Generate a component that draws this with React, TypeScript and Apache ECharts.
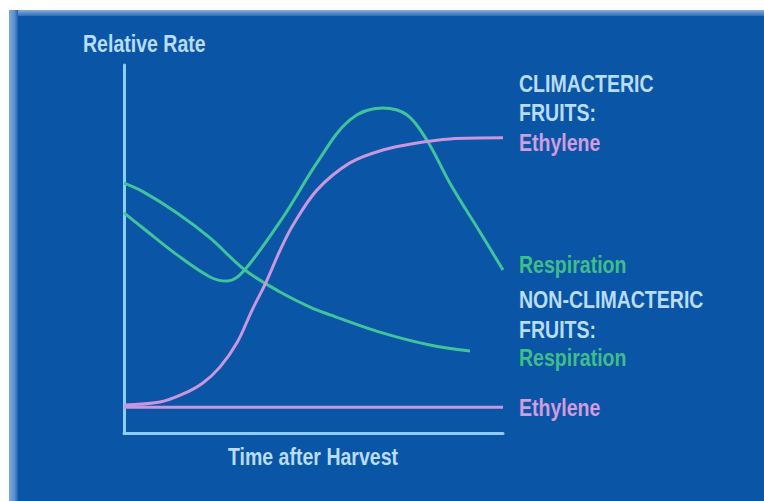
import React, { useEffect, useRef } from "react";
import * as echarts from "echarts";

const climEthyleneX = [0, 9.5, 15.6, 20.8, 25.3, 29.8, 33.8, 37.5, 41.2, 44.6, 50.9, 59.6, 68.3, 77.3, 86, 100];
const climEthyleneY = [7.6, 8.4, 10.6, 13.6, 17.9, 24.5, 33.4, 41.0, 49.7, 56.5, 66.0, 73.4, 76.9, 78.8, 79.9, 80.2];

const climRespX = [0, 5, 14, 22.7, 27.2, 31.4, 42, 50.9, 59.6, 68.3, 74.7, 79.9, 86, 94.7, 100];
const climRespY = [59.8, 55.7, 48.4, 42.4, 41.3, 43.8, 58.7, 73.4, 85.1, 88.3, 86.4, 79.6, 67.9, 53.3, 44.3];

const nonRespX = [0, 5, 14, 22.7, 31.9, 41.2, 49.1, 54.4, 67.5, 80.7, 91.3];
const nonRespY = [67.9, 65.6, 59.8, 53, 44.3, 38.3, 34.2, 32.1, 27.4, 23.9, 22.3];

const nonEthyleneX = [0, 100];
const nonEthyleneY = [7, 7];

const yAxisTitle = "Relative Rate";
const xAxisTitle = "Time after Harvest";
const labelTexts = [
  "CLIMACTERIC",
  "FRUITS:",
  "Ethylene",
  "Respiration",
  "NON-CLIMACTERIC",
  "FRUITS:",
  "Respiration",
  "Ethylene",
];

const zip = (xs: number[], ys: number[]) => xs.map((x, i) => [x, ys[i]]);

const GREEN = "#3fc49b";
const PINK = "#c897dd";
const AXIS = "#8ccdf8";
const TEXT = "#b8dcfb";
const GREEN_TXT = "#3fbd8a";
const PINK_TXT = "#d09ddf";

export default function App() {
  const ref = useRef<HTMLDivElement>(null);

  useEffect(() => {
    if (!ref.current) return;
    const chart = echarts.init(ref.current, null, { renderer: "svg" });
    const font = "bold 23px 'Liberation Sans', Arial, sans-serif";
    const labelColors = [TEXT, TEXT, PINK_TXT, GREEN_TXT, TEXT, TEXT, GREEN_TXT, PINK_TXT];
    const labelYs = [84, 113, 143, 265, 300, 330, 358, 408];
    const mkText = (text: string, x: number, y: number, fill: string, align = "left") => ({
      type: "text",
      x,
      y,
      scaleX: 0.85,
      silent: true,
      style: {
        text,
        fill,
        font,
        textAlign: align,
        textVerticalAlign: "middle",
      },
    });
    const line = (name: string, data: number[][], color: string) => ({
      name,
      type: "line",
      data,
      smooth: 0.35,
      symbol: "none",
      lineStyle: { color, width: 3 },
      itemStyle: { color },
    });
    chart.setOption({
      animation: false,
      backgroundColor: "transparent",
      grid: { left: 124, top: 65, width: 379, height: 368 },
      xAxis: {
        type: "value",
        min: 0,
        max: 100,
        axisLine: { show: true, lineStyle: { color: AXIS, width: 3 } },
        axisTick: { show: false },
        axisLabel: { show: false },
        splitLine: { show: false },
      },
      yAxis: {
        type: "value",
        min: 0,
        max: 100,
        axisLine: { show: true, lineStyle: { color: AXIS, width: 3 } },
        axisTick: { show: false },
        axisLabel: { show: false },
        splitLine: { show: false },
      },
      series: [
        line("Non-climacteric Ethylene", zip(nonEthyleneX, nonEthyleneY), PINK),
        line("Non-climacteric Respiration", zip(nonRespX, nonRespY), GREEN),
        line("Climacteric Respiration", zip(climRespX, climRespY), GREEN),
        line("Climacteric Ethylene", zip(climEthyleneX, climEthyleneY), PINK),
      ],
      graphic: [
        mkText(yAxisTitle, 83, 44, TEXT),
        mkText(xAxisTitle, 313, 457, TEXT, "center"),
        ...labelTexts.map((t, i) => mkText(t, 519, labelYs[i], labelColors[i])),
      ],
    });
    return () => chart.dispose();
  }, []);

  return (
    <div style={{ position: "absolute", left: 0, top: 0, width: 764, height: 501, background: "#ffffff", overflow: "hidden" }}>
      <div style={{ position: "absolute", left: 9, top: 10, width: 755, height: 491, background: "#0a55a6" }} />
      <div style={{ position: "absolute", left: 9, top: 10, width: 755, height: 6, background: "linear-gradient(#86aedb, #2f6db5)" }} />
      <div style={{ position: "absolute", left: 9, top: 10, width: 9, height: 491, background: "linear-gradient(90deg, #7ea8d8, #5b8fcf 60%, #1f60ad)" }} />
      <div ref={ref} style={{ position: "absolute", left: 0, top: 0, width: 764, height: 501 }} />
    </div>
  );
}
